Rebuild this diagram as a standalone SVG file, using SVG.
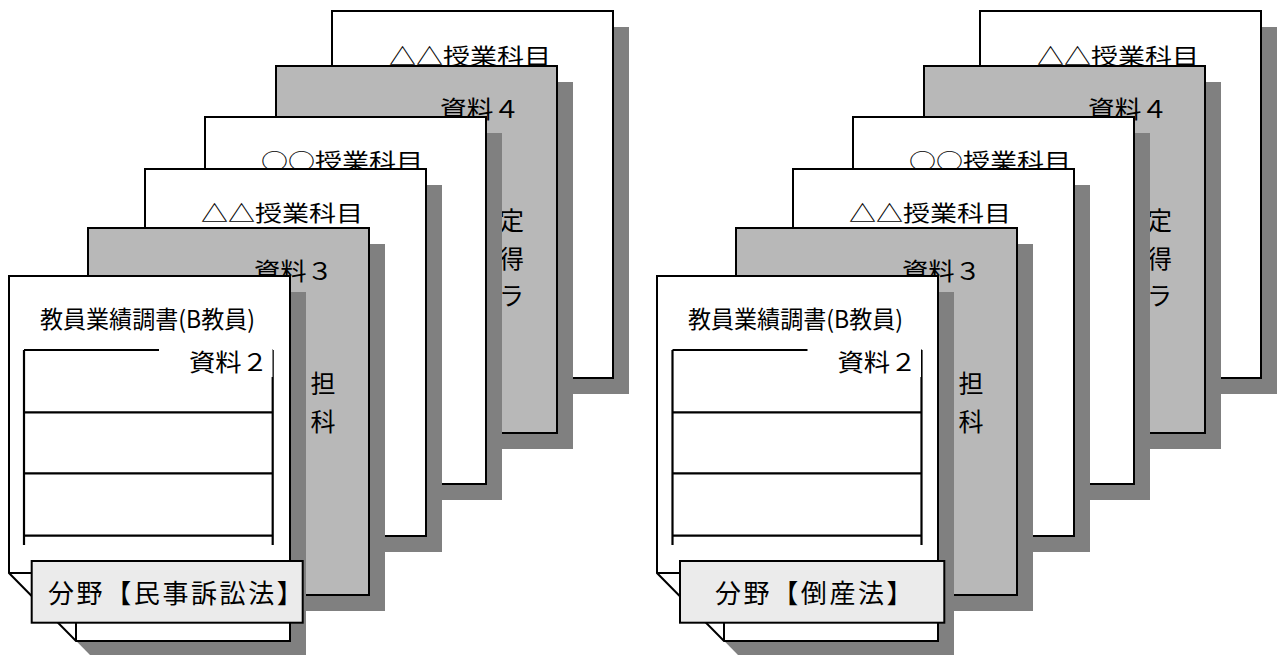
<svg xmlns="http://www.w3.org/2000/svg" width="1277" height="655" viewBox="0 0 1277 655">
<style>
.pg{fill:#fff;stroke:#000;stroke-width:2}
.gp{fill:#b8b8b8;stroke:#000;stroke-width:2}
.sh{fill:#808080}
.ln{fill:none;stroke:#000;stroke-width:2.2}
.lb{fill:#ebebeb;stroke:#000;stroke-width:2}
.wb{fill:#fff}
text{font-family:"Noto Sans CJK JP","Liberation Serif",serif;fill:#000}
.t22{font-size:22px}
.t24{font-size:24px}
.t25{font-size:25px}
.t26{font-size:26px;letter-spacing:2.6px}
</style>
<rect width="1277" height="655" fill="#fff"/>
<g id="connectors"/>

<!-- LEFT STACK -->
<g id="L-p6">
<rect class="sh" x="348" y="27" width="281" height="367"/>
<rect class="pg" x="332" y="11" width="281" height="367"/>
<text class="t22" x="389" y="64" textLength="162" lengthAdjust="spacingAndGlyphs">△△授業科目</text>
</g>
<g id="L-p5">
<rect class="sh" x="292" y="82" width="281" height="367"/>
<rect class="gp" x="276" y="66" width="281" height="367"/>
<text class="t24" x="440" y="118" textLength="80" lengthAdjust="spacingAndGlyphs">資料４</text>
<text class="t25" x="499" y="230">定</text>
<text class="t25" x="499" y="267.5">得</text>
<text class="t25" x="499" y="305">ラ</text>
</g>
<g id="L-p4">
<rect class="sh" x="221" y="133" width="281" height="367"/>
<rect class="pg" x="205" y="117" width="281" height="367"/>
<text class="t22" x="261" y="168.5" textLength="162" lengthAdjust="spacingAndGlyphs">○○授業科目</text>
</g>
<g id="L-p3">
<rect class="sh" x="161" y="185" width="281" height="367"/>
<rect class="pg" x="145" y="169" width="281" height="367"/>
<text class="t22" x="201" y="221" textLength="162" lengthAdjust="spacingAndGlyphs">△△授業科目</text>
</g>
<g id="L-p2">
<rect class="sh" x="104" y="244" width="281" height="367"/>
<rect class="gp" x="88" y="228" width="281" height="367"/>
<text class="t24" x="254" y="280" textLength="79" lengthAdjust="spacingAndGlyphs">資料３</text>
<text class="t25" x="310.5" y="393">担</text>
<text class="t25" x="310.5" y="431">科</text>
</g>
<g id="L-p1">
<path class="sh" d="M25,292 H306 V657 H92 L25,589 Z"/>
<path class="pg" d="M9,276 H290 V641 H76 L9,573 Z"/>
<path class="ln" d="M9,573 H76 V641" style="stroke-width:2"/>
<text class="t24" x="40" y="328" textLength="215" lengthAdjust="spacingAndGlyphs">教員業績調書(B教員)</text>
<path class="ln" d="M24,350 H272.7 M24,350 V545 M272.7,350 V545 M24,412.3 H272.7 M24,473.3 H272.7 M24,535.7 H272.7"/>
<rect class="wb" x="159" y="343" width="113.5" height="34"/>
<text class="t24" x="189" y="371" textLength="79" lengthAdjust="spacingAndGlyphs">資料２</text>
</g>
<g id="L-label">
<rect class="lb" x="31.7" y="561" width="271" height="61.7"/>
<text class="t26" x="48" y="603">分野【民事訴訟法】</text>
</g>

<!-- RIGHT STACK -->
<g id="R-p6">
<rect class="sh" x="996" y="27" width="281" height="367"/>
<rect class="pg" x="980" y="11" width="281" height="367"/>
<text class="t22" x="1037" y="64" textLength="162" lengthAdjust="spacingAndGlyphs">△△授業科目</text>
</g>
<g id="R-p5">
<rect class="sh" x="940" y="82" width="281" height="367"/>
<rect class="gp" x="924" y="66" width="281" height="367"/>
<text class="t24" x="1088" y="118" textLength="80" lengthAdjust="spacingAndGlyphs">資料４</text>
<text class="t25" x="1147" y="230">定</text>
<text class="t25" x="1147" y="267.5">得</text>
<text class="t25" x="1147" y="305">ラ</text>
</g>
<g id="R-p4">
<rect class="sh" x="869" y="133" width="281" height="367"/>
<rect class="pg" x="853" y="117" width="281" height="367"/>
<text class="t22" x="909" y="168.5" textLength="162" lengthAdjust="spacingAndGlyphs">○○授業科目</text>
</g>
<g id="R-p3">
<rect class="sh" x="809" y="185" width="281" height="367"/>
<rect class="pg" x="793" y="169" width="281" height="367"/>
<text class="t22" x="849" y="221" textLength="162" lengthAdjust="spacingAndGlyphs">△△授業科目</text>
</g>
<g id="R-p2">
<rect class="sh" x="752" y="244" width="281" height="367"/>
<rect class="gp" x="736" y="228" width="281" height="367"/>
<text class="t24" x="902" y="280" textLength="79" lengthAdjust="spacingAndGlyphs">資料３</text>
<text class="t25" x="958.5" y="393">担</text>
<text class="t25" x="958.5" y="431">科</text>
</g>
<g id="R-p1">
<path class="sh" d="M673,292 H954 V657 H740 L673,589 Z"/>
<path class="pg" d="M657,276 H938 V641 H724 L657,573 Z"/>
<path class="ln" d="M657,573 H724 V641" style="stroke-width:2"/>
<text class="t24" x="688" y="328" textLength="215" lengthAdjust="spacingAndGlyphs">教員業績調書(B教員)</text>
<path class="ln" d="M672.5,350 H921.5 M672.5,350 V545 M921.5,350 V545 M672.5,412.3 H921.5 M672.5,473.3 H921.5 M672.5,535.7 H921.5"/>
<rect class="wb" x="807.5" y="343" width="113.5" height="34"/>
<text class="t24" x="837.5" y="371" textLength="79" lengthAdjust="spacingAndGlyphs">資料２</text>
</g>
<g id="R-label">
<rect class="lb" x="680" y="561" width="264.3" height="61.7"/>
<text class="t26" x="715" y="603">分野【倒産法】</text>
</g>
</svg>
